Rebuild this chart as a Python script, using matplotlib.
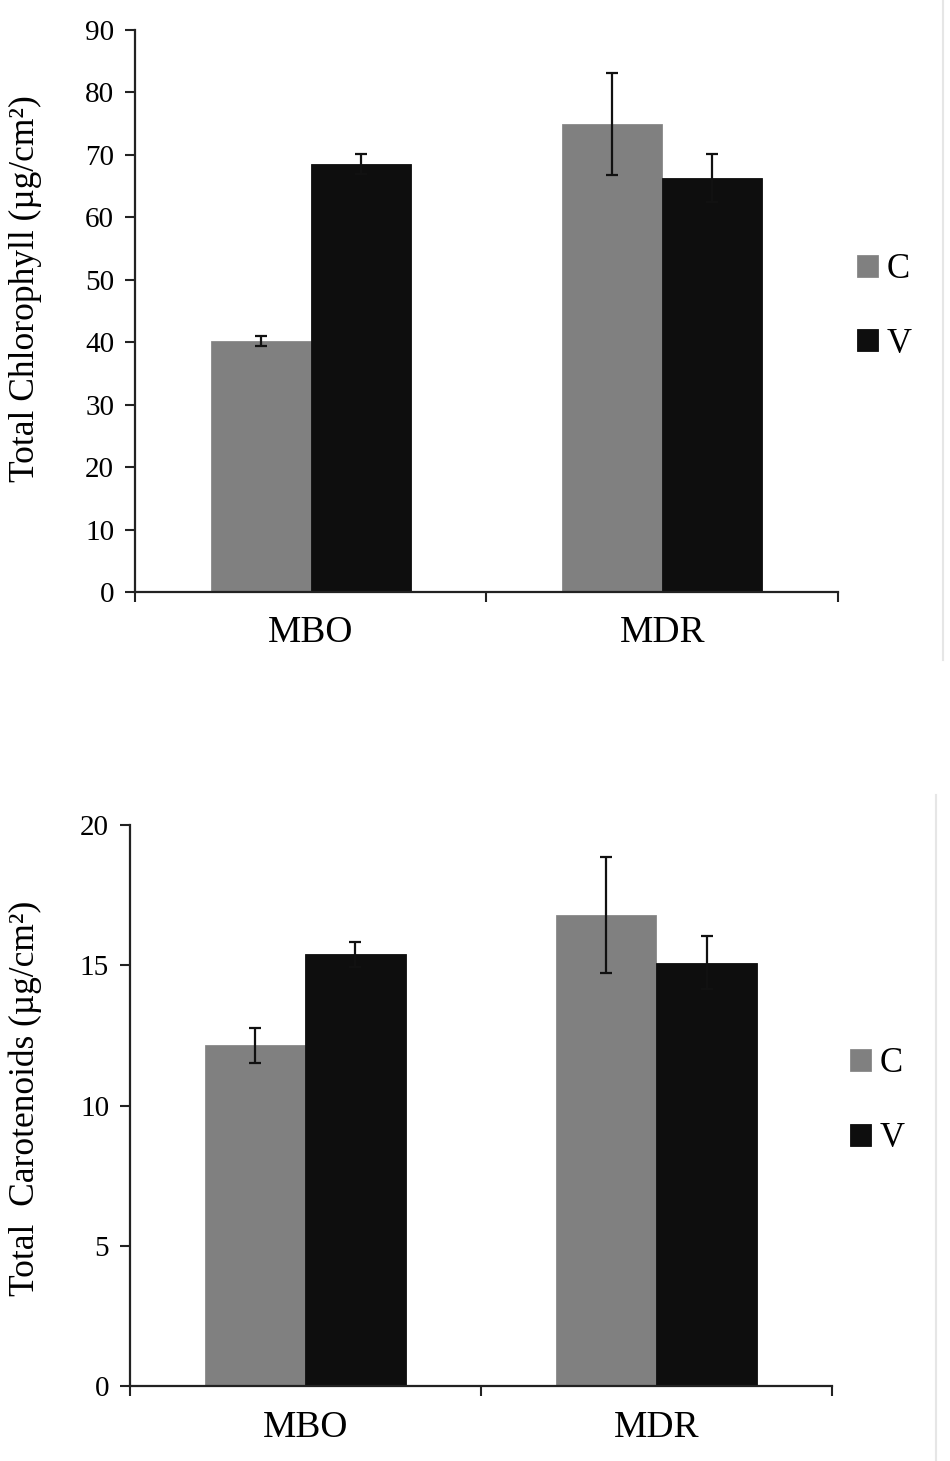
import numpy as np
import matplotlib
matplotlib.use("Agg")
import matplotlib.pyplot as plt
from matplotlib.lines import Line2D

plt.rcParams['font.family'] = ['Liberation Serif', 'DejaVu Serif']

# -----------------------------
# Data
# -----------------------------
sites = ['MBO', 'MDR']
groups = ['C', 'V']

chl_c = [40.2, 74.9]
chl_c_err = [0.8, 8.2]
chl_v = [68.5, 66.3]
chl_v_err = [1.6, 3.9]

car_c = [12.15, 16.8]
car_c_err = [0.63, 2.07]
car_v = [15.4, 15.1]
car_v_err = [0.44, 0.95]

chl_ticks = [0, 10, 20, 30, 40, 50, 60, 70, 80, 90]
car_ticks = [0, 5, 10, 15, 20]

gray = '#808080'
black = '#0e0e0e'
spine_col = '#222222'

fig = plt.figure(figsize=(9.5, 14.61), dpi=100)
ax1 = fig.add_axes([0.1421, 0.5948, 0.7400, 0.3847])
ax2 = fig.add_axes([0.1368, 0.0510, 0.7390, 0.3843])


def draw_panel(ax, c_vals, c_err, v_vals, v_err, ticks, ylabel, label_xy):
    x = np.arange(len(sites))
    w = 0.285
    bc = ax.bar(x - w / 2, c_vals, w, color=gray, edgecolor='#8a8a8a',
                linewidth=0.6, label=groups[0], zorder=2)
    bv = ax.bar(x + w / 2, v_vals, w, color=black, edgecolor=black,
                linewidth=0.6, label=groups[1], zorder=2)
    ax.errorbar(x - w / 2, c_vals, yerr=c_err, fmt='none', ecolor='#111111',
                elinewidth=1.6, capsize=4.5, capthick=1.6, zorder=3)
    ax.errorbar(x + w / 2, v_vals, yerr=v_err, fmt='none', ecolor='#111111',
                elinewidth=1.6, capsize=4.5, capthick=1.6, zorder=3)

    ax.set_xlim(-0.5, 1.5)
    ax.set_ylim(ticks[0], ticks[-1])
    ax.set_yticks(ticks)
    ax.set_yticklabels([str(t) for t in ticks])

    # category boundaries get tick marks, centres get the labels
    ax.set_xticks([-0.5, 0.5, 1.5])
    ax.set_xticklabels(['', '', ''])
    ax.set_xticks(x, minor=True)
    ax.set_xticklabels(sites, minor=True)
    ax.tick_params(axis='x', which='major', direction='out', length=7,
                   width=1.5, color=spine_col)
    ax.tick_params(axis='x', which='minor', length=0, pad=17, labelsize=27)
    ax.tick_params(axis='y', direction='out', length=7, width=1.5,
                   color=spine_col, pad=8, labelsize=21)

    for s in ['top', 'right']:
        ax.spines[s].set_visible(False)
    for s in ['left', 'bottom']:
        ax.spines[s].set_linewidth(1.6)
        ax.spines[s].set_color(spine_col)

    ax.set_ylabel(ylabel, fontsize=25.5)
    ax.yaxis.set_label_coords(*label_xy)
    return bc, bv


bc1, bv1 = draw_panel(ax1, chl_c, chl_c_err, chl_v, chl_v_err, chl_ticks,
                      'Total Chlorophyll (µg/cm²)', (-0.132, 0.539))
bc2, bv2 = draw_panel(ax2, car_c, car_c_err, car_v, car_v_err, car_ticks,
                      'Total  Carotenoids (µg/cm²)', (-0.125, 0.513))

# legends to the right of each panel
for ax, ypos, xpos in [(ax1, 0.790, 0.902), (ax2, 0.2464, 0.895)]:
    ax.legend(loc='center left', bbox_to_anchor=(xpos, ypos),
              bbox_transform=fig.transFigure, frameon=False, fontsize=25,
              handlelength=0.6, handleheight=0.6, handletextpad=0.25,
              labelspacing=1.2, borderpad=0, borderaxespad=0)

# faint border lines on the right edge
fig.add_artist(Line2D([943 / 950, 943 / 950], [1.0, 1 - 660 / 1461],
                      transform=fig.transFigure, color='#e6e6e6', lw=1.5))
fig.add_artist(Line2D([936 / 950, 936 / 950], [1 - 795 / 1461, 0.0],
                      transform=fig.transFigure, color='#e6e6e6', lw=1.5))

fig.savefig('out.png', dpi=100, facecolor='white')
